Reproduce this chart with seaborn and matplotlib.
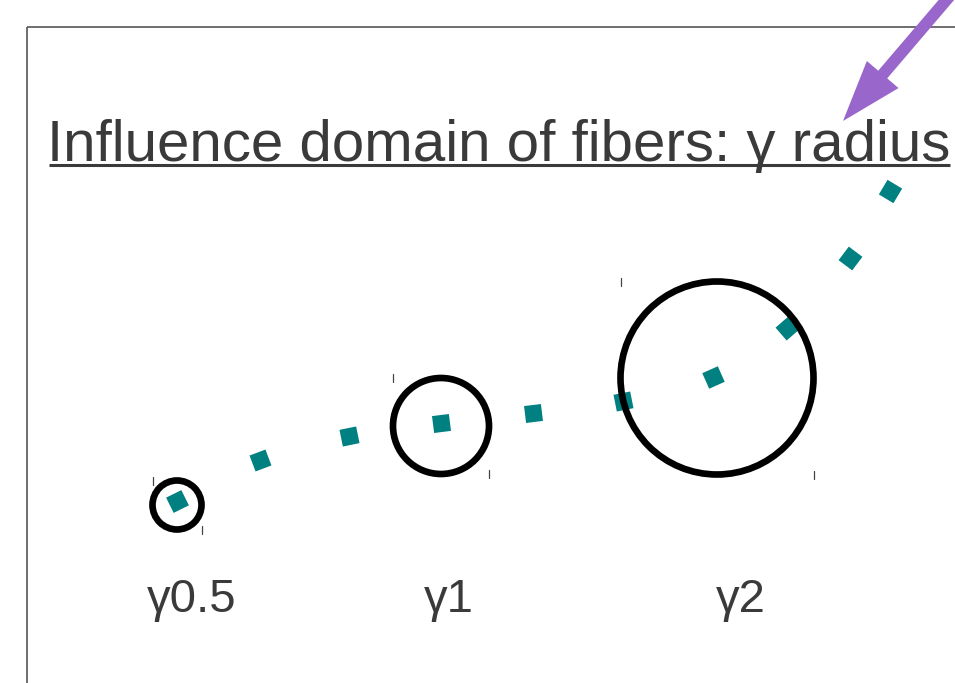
import numpy as np
import pandas as pd
import matplotlib
matplotlib.use("Agg")
import matplotlib.pyplot as plt
import seaborn as sns
from matplotlib.patches import Circle, Rectangle

# ---- data (positions in slide pixel units) ----
labels = ["γ0.5", "γ1", "γ2"]
circle_x = [177, 441, 717]
circle_y = [505, 426, 378]
circle_r = [24.5, 48, 96.5]
label_x = [192, 449, 741]
curve_x = [177, 260, 349, 441, 533, 623, 713, 787, 850, 890]
curve_y = [501, 460, 436, 423, 413, 401, 377, 328, 258, 191]
title = "Influence domain of fibers: γ radius"

sns.set_theme(style="white")
plt.rcParams['font.family'] = ['Liberation Sans', 'DejaVu Sans']

W, H = 955, 683
fig = plt.figure(figsize=(W / 100, H / 100), dpi=100)
ax = fig.add_axes([0, 0, 1, 1])
ax.set_xlim(0, W)
ax.set_ylim(H, 0)
ax.set_axis_off()

teal = "#008080"
dark = "#3a3a3a"

# slide frame
ax.add_patch(Rectangle((27, 27), 2000, 2000, fill=False, ec="#555555", lw=1.2))

# teal dotted curve: rotated square markers along the path
cx = np.array(curve_x, float)
cy = np.array(curve_y, float)
dx = np.gradient(cx)
dy = np.gradient(-cy)
angles = np.degrees(np.arctan2(dy, dx))
df = pd.DataFrame({"x": curve_x, "y": curve_y})
for i in range(len(df)):
    sns.scatterplot(data=df.iloc[[i]], x="x", y="y", ax=ax,
                    marker=(4, 0, 45 + angles[i]), s=300, color=teal,
                    linewidth=0, legend=False, zorder=3)

# circles with corner handle ticks
for x0, y0, r in zip(circle_x, circle_y, circle_r):
    ax.add_patch(Circle((x0, y0), r, fill=False, ec="black", lw=4.8, zorder=4))
    ax.plot([x0 - r, x0 - r], [y0 - r - 4, y0 - r + 4], color="#444444", lw=0.9)
    ax.plot([x0 + r, x0 + r], [y0 + r - 4, y0 + r + 4], color="#444444", lw=0.9)

# labels
for lx, lab in zip(label_x, labels):
    ax.text(lx, 612, lab, ha="center", va="baseline", fontsize=34, color=dark)

# title with underline, sized to fit the slide width
t = ax.text(47, 161, title, ha="left", va="baseline", fontsize=40, color=dark)
fig.canvas.draw()
bb = t.get_window_extent()
target = 950 - 47
t.set_fontsize(40 * target / bb.width)
fig.canvas.draw()
bb = t.get_window_extent()
inv = ax.transData.inverted()
x0d, _ = inv.transform((bb.x0, bb.y0))
x1d, _ = inv.transform((bb.x1, bb.y0))
ax.plot([x0d + 2, x1d], [165, 165], color=dark, lw=2.2, solid_capstyle="butt")

# purple arrow
ax.annotate("", xy=(843, 121), xytext=(972, -30),
            arrowprops=dict(arrowstyle="simple,head_length=44,head_width=30,tail_width=8.5",
                            mutation_scale=1, fc="#9966cc", ec="none",
                            shrinkA=0, shrinkB=0), zorder=5)

fig.savefig("out.png", dpi=100)
